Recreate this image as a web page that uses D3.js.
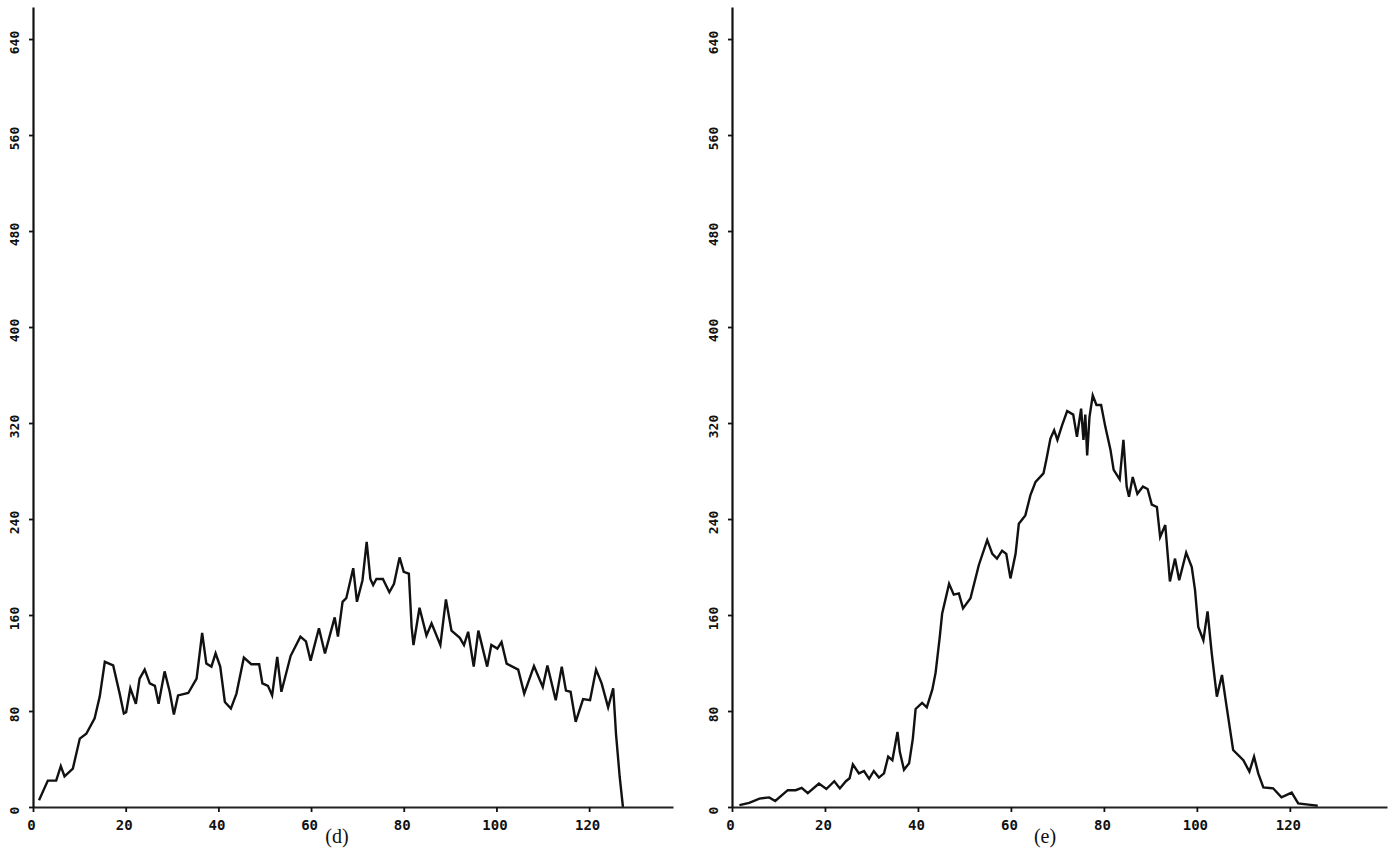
<!DOCTYPE html>
<html>
<head>
<meta charset="utf-8">
<script src="https://cdn.jsdelivr.net/npm/d3@7"></script>
<style>
  body { margin: 0; background: #fff; }
  svg { display: block; }
</style>
</head>
<body>
<svg id="chart" width="1389" height="862"></svg>
<script>
// histogram (d): bin position / count
const dBins = [1.3, 3.2, 5, 6, 6.8, 8.6, 10.1, 11.5, 13.3, 14.4, 15.5, 17.3, 18.7, 19.6, 20.1, 21, 22.2, 23, 24.1, 25.2,
    26.3, 27.1, 28.4, 29.5, 30.4, 31.3, 33.5, 35.3, 36.5, 37.4, 38.5, 39.4, 40.4, 41.4, 42.7, 43.9, 45.5, 47.1, 48.8, 49.5,
    50.7, 51.6, 52.7, 53.6, 55.6, 57.7, 58.9, 59.9, 61.7, 63, 65.1, 65.8, 66.8, 67.6, 69.1, 69.9, 71.1, 72, 72.8, 73.4,
    74.1, 75.5, 76.9, 77.9, 79.1, 80, 81.1, 81.7, 82.1, 83.4, 84.9, 86, 87.9, 89.1, 90.3, 92.1, 93, 93.9, 95.1, 96.1,
    98, 98.9, 100.2, 101.1, 102.2, 104.7, 106, 108.1, 110, 111, 112.8, 114.1, 115, 116, 117.1, 118.7, 120.2, 121.5, 122.7, 124.1,
    125.2, 125.8, 126.6, 127.3];
const dCounts = [5.6, 22, 22, 34, 25.6, 32, 57, 61, 74, 92, 121, 118, 94.5, 78, 79, 99, 86, 107, 114.5, 103,
    101, 86, 113, 96, 77, 93, 95, 107, 145, 119.5, 117, 128, 117, 87.5, 82, 94.5, 124.5, 119, 119, 103,
    101, 93, 125, 96, 126, 142, 138, 122, 149, 128, 158, 142, 171, 174, 199, 171, 189, 221, 190, 185,
    190, 190, 179, 186, 208, 196, 194.5, 150, 135, 166, 143, 153, 135, 173, 147, 141, 135, 146, 117, 147,
    117, 135, 132, 137.5, 119.5, 114.5, 94.5, 117.5, 100, 118, 89, 117, 97, 96, 71, 90, 89, 114.5, 103, 83,
    99, 61, 25, 0];

// histogram (e)
const eBins = [1.6, 3.7, 5.9, 8, 9.3, 12, 13.7, 15, 16.3, 18.7, 20.3, 22, 23.2, 24.5, 25.3, 26, 27.3, 28.4, 29.5, 30.5,
    31.6, 32.7, 33.6, 34.5, 35.6, 36.1, 37, 38.1, 38.9, 39.5, 40.9, 41.9, 43.1, 43.8, 44.7, 45.2, 46.7, 47.7, 48.8, 49.7,
    51.3, 53.1, 54.9, 56, 57, 58.1, 59, 59.9, 61, 61.7, 63.1, 64.2, 65.3, 67, 67.6, 68.5, 69.3, 70, 71, 72.1,
    73.4, 74.2, 75.1, 75.6, 76, 76.4, 76.9, 77.6, 78.4, 79.4, 80.3, 81.4, 82.1, 83.4, 84.2, 84.9, 85.4, 86.2, 87.2, 88.4,
    89.4, 90.3, 91.4, 92.1, 93.2, 94.2, 95.3, 96.2, 97.7, 98.9, 99.6, 100.3, 101.4, 102.3, 103.2, 104.3, 105.4, 106.4, 107.8, 110,
    111.3, 112.3, 113.2, 114.3, 116.4, 118.2, 120.4, 121.8, 124, 126];
const eCounts = [1.5, 3.5, 7, 8, 5, 14, 14, 16, 11.5, 19.5, 15, 21.5, 15.5, 21.5, 24, 35.5, 28, 30, 23.5, 30,
    24.5, 28, 42, 39, 62.5, 46, 31, 36.5, 57, 81.7, 86.7, 83, 98, 112, 142, 161, 186, 177, 178, 165.5,
    174, 201.7, 222.5, 211, 207, 213.6, 211, 190.5, 211, 236, 243, 260, 271, 278, 289, 307, 314, 306, 318, 330,
    327, 308.6, 332, 306, 327, 293, 325, 343, 335, 335, 317, 298, 281, 273, 306, 267, 258.6, 275, 261, 267,
    265, 252, 250, 225, 235, 188, 207, 189, 212, 200, 181, 150, 139, 163, 128, 92, 110, 83.6, 47.5, 39,
    29.5, 42, 28, 16.4, 15.6, 8, 12, 3, 2, 1];

const xTicks = [0, 20, 40, 60, 80, 100, 120];
const yTicks = [0, 80, 160, 240, 320, 400, 480, 560, 640];
const panelLabels = ['(d)', '(e)'];

class HistogramPanel {
    constructor(svg, bins, counts, config) {
        this.svg = svg;
        this.data = bins.map((b, i) => ({ x: b, y: counts[i] }));
        this.config = config;
        this.initVis();
    }

    initVis() {
        let vis = this;
        const c = vis.config;

        vis.xScale = d3.scaleLinear()
            .domain([0, c.xMax])
            .range([c.left, c.right]);

        // 1.2 px per count, axis line runs a little above the 640 tick
        vis.yScale = d3.scaleLinear()
            .domain([0, 666.7])
            .range([c.bottom, c.bottom - 800]);

        vis.xAxis = d3.axisBottom(vis.xScale)
            .tickValues(xTicks)
            .tickFormat(d3.format('d'))
            .tickSize(5)
            .tickPadding(8)
            .tickSizeOuter(0);

        vis.yAxis = d3.axisLeft(vis.yScale)
            .tickValues(yTicks)
            .tickFormat(d3.format('d'))
            .tickSize(4)
            .tickSizeOuter(0);

        vis.renderVis();
    }

    renderVis() {
        let vis = this;
        const c = vis.config;

        const line = d3.line()
            .x(d => vis.xScale(d.x))
            .y(d => vis.yScale(d.y));

        vis.svg.append('path')
            .datum(vis.data)
            .attr('fill', 'none')
            .attr('stroke', '#111')
            .attr('stroke-width', 2.4)
            .attr('stroke-linejoin', 'miter')
            .attr('d', line);

        const xAxisG = vis.svg.append('g')
            .attr('transform', `translate(0,${c.bottom})`)
            .call(vis.xAxis);
        xAxisG.select('.domain').attr('stroke', '#222').attr('stroke-width', 2.2);
        xAxisG.selectAll('.tick line').attr('stroke', '#111').attr('stroke-width', 1.8);
        xAxisG.selectAll('.tick text')
            .attr('fill', '#111')
            .attr('font-family', '"DejaVu Sans Mono", monospace')
            .attr('font-weight', 'bold')
            .attr('font-size', 14)
            .attr('dx', -2);

        const yAxisG = vis.svg.append('g')
            .attr('transform', `translate(${c.left},0)`)
            .call(vis.yAxis);
        yAxisG.select('.domain').attr('stroke', '#111').attr('stroke-width', 2.2);
        yAxisG.selectAll('.tick line').attr('stroke', '#111').attr('stroke-width', 1.8);
        yAxisG.selectAll('.tick text')
            .attr('x', 0)
            .attr('dy', null)
            .attr('text-anchor', 'middle')
            .attr('transform', 'translate(-14,3) rotate(-90)')
            .attr('fill', '#111')
            .attr('font-family', '"DejaVu Sans Mono", monospace')
            .attr('font-weight', 'bold')
            .attr('font-size', 13);

        vis.svg.append('text')
            .attr('x', c.captionX)
            .attr('y', 843)
            .attr('text-anchor', 'middle')
            .attr('font-family', '"Liberation Serif", "Times New Roman", serif')
            .attr('font-size', 20)
            .attr('fill', '#111')
            .text(c.caption);
    }
}

const svg = d3.select('#chart');

new HistogramPanel(svg, dBins, dCounts, {
    left: 33, right: 673, xMax: 138.1, bottom: 807, captionX: 337, caption: panelLabels[0]
});
new HistogramPanel(svg, eBins, eCounts, {
    left: 732, right: 1387, xMax: 140.9, bottom: 807, captionX: 1045, caption: panelLabels[1]
});
</script>
</body>
</html>
